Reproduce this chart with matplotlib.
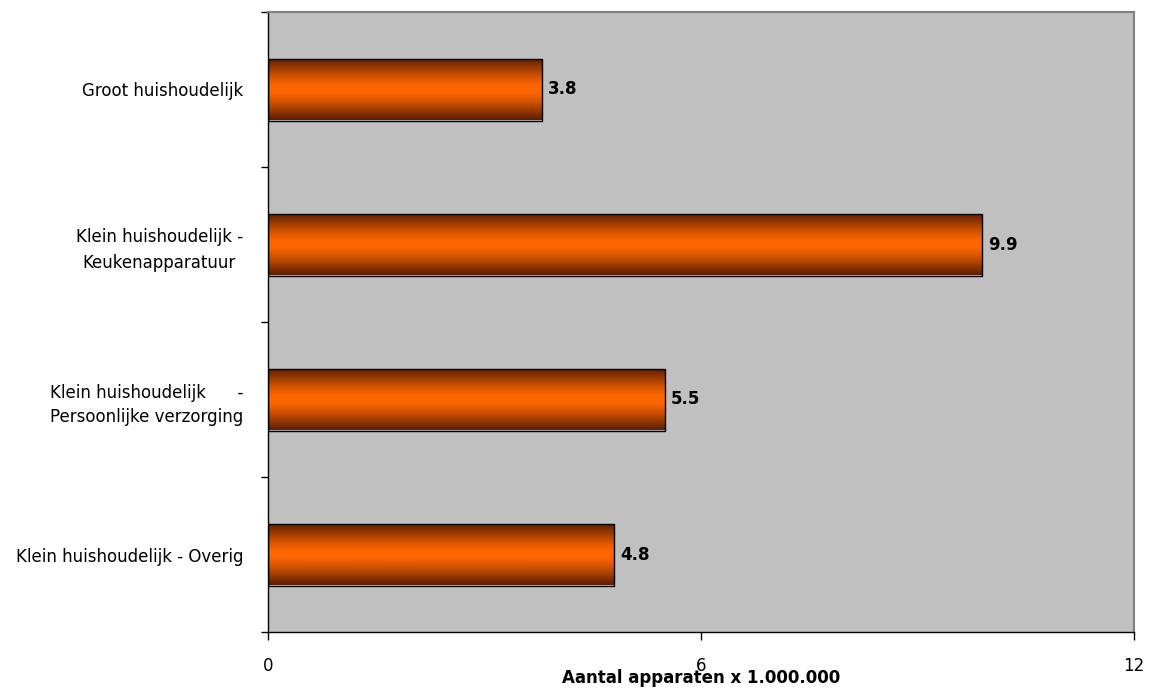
import matplotlib
matplotlib.use("Agg")
import matplotlib.pyplot as plt
import numpy as np
from matplotlib.colors import LinearSegmentedColormap

categories = ["Groot huishoudelijk",
              "Klein huishoudelijk -\nKeukenapparatuur",
              "Klein huishoudelijk      -\nPersoonlijke verzorging",
              "Klein huishoudelijk - Overig"]
values = [3.8, 9.9, 5.5, 4.8]
xticks = [0, 6, 12]
xlabel = "Aantal apparaten x 1.000.000"

fig = plt.figure(figsize=(11.56, 6.88), dpi=100)
ax = fig.add_axes([268/1156, 1-632/688, (1134-268)/1156, (632-12)/688])
ax.set_facecolor("#C0C0C0")

n = len(categories)
ypos = np.arange(n)
bh = 0.4
bars = ax.barh(ypos, values, height=bh, color="none", edgecolor="black", linewidth=1.0, zorder=3)

cmap = LinearSegmentedColormap.from_list("g", [(0, "#5A1E00"), (0.3, "#D45400"), (0.45, "#FF6600"),
                                                (0.55, "#FF6600"), (0.7, "#D45400"), (1, "#5A1E00")])
grad = np.linspace(0, 1, 256).reshape(-1, 1)
for b, v, y in zip(bars, values, ypos):
    im = ax.imshow(grad, cmap=cmap, aspect="auto", extent=[0, v, y - bh/2, y + bh/2], zorder=2, interpolation="bicubic")
    im.set_clip_path(b)
    ax.text(v + 0.08, y, f"{v:.1f}", va="center", ha="left", fontsize=12, fontweight="bold", zorder=4)

ax.set_xlim(0, 12)
ax.set_ylim(n - 0.5, -0.5)
ax.set_xticks(xticks)
ax.set_xticklabels([str(t) for t in xticks], fontsize=12)
ax.tick_params(axis="x", direction="out", length=6, pad=12, width=1)
ax.set_yticks(ypos)
ax.set_yticklabels(categories, fontsize=12, multialignment="center", linespacing=1.5)
ax.tick_params(axis="y", which="major", length=0, pad=18)
ax.set_yticks(np.arange(-0.5, n, 1), minor=True)
ax.tick_params(axis="y", which="minor", direction="out", length=5, width=1)

for s in ["top", "right"]:
    ax.spines[s].set_color("#808080")
    ax.spines[s].set_linewidth(1.5)
for s in ["left", "bottom"]:
    ax.spines[s].set_color("black")
    ax.spines[s].set_linewidth(1)

ax.set_xlabel(xlabel, fontsize=12, fontweight="bold")
ax.xaxis.set_label_coords(0.5, -37/620)

fig.savefig("out.png", dpi=100)
